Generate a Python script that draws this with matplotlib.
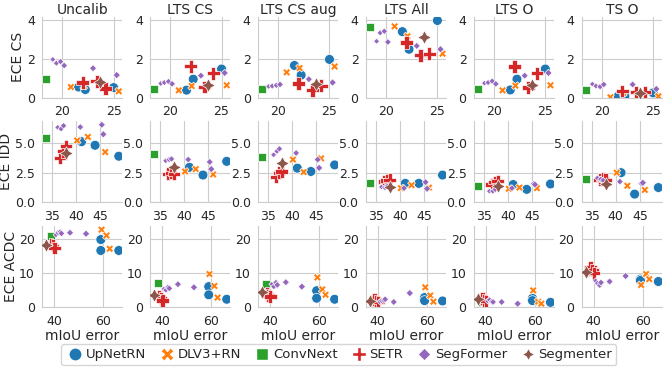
import matplotlib
matplotlib.use('Agg')
import matplotlib.pyplot as plt
from matplotlib.lines import Line2D
import seaborn as sns

# model family of each point
families = ['UpNetRN', 'DLV3+RN', 'ConvNext', 'SETR', 'SegFormer', 'Segmenter']
model = (['UpNetRN'] * 3 + ['DLV3+RN'] * 3 + ['ConvNext'] + ['SETR'] * 3
         + ['SegFormer'] * 6 + ['Segmenter'])
point_size = [50, 50, 50, 32, 32, 32, 75, 85, 85, 85, 18, 20, 22, 24, 26, 28, 95]

methods = ['Uncalib', 'LTS CS', 'LTS CS aug', 'LTS All', 'LTS O', 'TS O']

# mIoU error per dataset
miou_cs = [21.6, 22.25, 25.0, 20.85, 22.1, 25.5, 18.45, 22.0, 23.35, 24.2,
           19.1, 19.45, 19.85, 20.2, 23.0, 25.3, 23.7]
miou_idd = [41.1, 43.9, 48.8, 40.2, 42.4, 46.0, 33.8, 36.7, 37.3, 37.9,
            36.2, 36.9, 37.4, 40.85, 45.3, 45.6, 37.9]
miou_acdc = [59.0, 59.0, 66.3, 59.3, 61.3, 62.6, 38.6, 38.7, 39.5, 40.2,
             40.8, 41.6, 42.5, 43.0, 46.5, 53.0, 36.8]

# ECE on Cityscapes
ece_cs_uncalib = [0.55, 0.42, 0.52, 0.55, 0.6, 0.33, 0.97, 0.78, 0.85, 0.47,
                  1.96, 1.77, 1.85, 1.65, 1.51, 1.16, 0.82]
ece_cs_lts_cs = [0.39, 0.95, 1.47, 0.38, 0.6, 0.64, 0.43, 1.61, 0.55, 1.26,
                 0.73, 0.78, 0.83, 0.71, 1.13, 1.27, 0.63]
ece_cs_lts_cs_aug = [1.65, 1.16, 1.96, 1.3, 1.52, 1.6, 0.43, 0.73, 0.38, 0.62,
                     0.58, 0.6, 0.64, 0.68, 0.95, 0.78, 0.7]
ece_cs_lts_all = [3.38, 2.48, 3.95, 3.65, 3.15, 2.25, 3.6, 2.82, 2.17, 2.25,
                  2.89, 3.32, 3.4, 2.85, 2.65, 2.48, 3.1]
ece_cs_lts_o = [0.4, 0.95, 1.47, 0.38, 0.62, 0.64, 0.47, 1.6, 0.52, 1.26,
                0.75, 0.78, 0.85, 0.71, 1.13, 1.27, 0.63]
ece_cs_ts_o = [0.08, 0.08, 0.25, 0.03, 0.25, 0.08, 0.38, 0.35, 0.3, 0.3,
               0.7, 0.6, 0.57, 0.68, 0.68, 0.45, 0.25]

# ECE on IDD
ece_idd_uncalib = [5.1, 4.8, 3.88, 5.2, 5.5, 4.23, 5.37, 3.75, 4.3, 4.72,
                   6.3, 6.18, 6.44, 6.33, 6.52, 5.72, 4.15]
ece_idd_lts_cs = [2.95, 2.3, 3.45, 2.6, 2.8, 2.35, 4.05, 2.4, 2.5, 2.4,
                  3.5, 3.6, 3.65, 3.6, 3.4, 2.8, 2.95]
ece_idd_lts_cs_aug = [2.88, 2.6, 3.15, 3.6, 2.55, 3.7, 3.8, 2.15, 2.5, 2.6,
                      4.0, 4.3, 4.5, 4.15, 3.6, 2.9, 3.3]
ece_idd_lts_all = [1.6, 1.6, 2.3, 1.2, 1.45, 1.25, 1.6, 1.75, 1.85, 1.9,
                   1.3, 1.25, 1.35, 1.2, 1.7, 1.15, 1.3]
ece_idd_lts_o = [1.5, 1.1, 1.55, 1.15, 1.25, 1.2, 1.4, 1.5, 1.7, 1.8,
                 0.95, 0.95, 1.1, 1.2, 1.55, 1.5, 1.35]
ece_idd_ts_o = [2.5, 0.7, 1.25, 2.5, 1.4, 1.05, 1.95, 1.9, 2.0, 1.9,
                2.05, 1.95, 1.85, 1.75, 1.6, 1.65, 1.55]

# ECE on ACDC
ece_acdc_uncalib = [19.8, 16.6, 16.6, 22.7, 21.0, 17.1, 20.8, 18.5, 18.0, 17.3,
                    21.2, 21.8, 22.0, 21.6, 21.8, 21.5, 18.3]
ece_acdc_lts_cs = [6.0, 3.6, 2.3, 9.7, 6.2, 2.8, 7.0, 3.1, 2.6, 1.9,
                   5.3, 5.0, 5.8, 5.5, 6.7, 5.8, 3.6]
ece_acdc_lts_cs_aug = [4.8, 2.6, 2.3, 8.7, 5.2, 3.6, 6.7, 4.1, 3.4, 3.1,
                       6.7, 6.0, 7.2, 6.5, 7.3, 6.0, 4.4]
ece_acdc_lts_all = [2.8, 1.9, 1.8, 5.8, 3.4, 1.6, 2.3, 2.3, 1.8, 1.5,
                    1.6, 1.9, 2.0, 2.3, 1.5, 4.1, 1.8]
ece_acdc_lts_o = [2.6, 1.9, 1.4, 4.9, 1.6, 1.0, 1.6, 2.6, 2.0, 1.8,
                  1.8, 2.1, 1.6, 1.5, 1.5, 1.0, 2.3]
ece_acdc_ts_o = [8.2, 7.8, 7.5, 6.5, 9.7, 8.2, 10.2, 11.7, 10.9, 9.9,
                 7.7, 7.0, 6.4, 7.2, 7.5, 9.1, 10.2]

rows = [
    ('ECE CS', miou_cs, [ece_cs_uncalib, ece_cs_lts_cs, ece_cs_lts_cs_aug,
                         ece_cs_lts_all, ece_cs_lts_o, ece_cs_ts_o],
     [20, 25], [0, 2, 4], ['0', '2', '4']),
    ('ECE IDD', miou_idd, [ece_idd_uncalib, ece_idd_lts_cs, ece_idd_lts_cs_aug,
                           ece_idd_lts_all, ece_idd_lts_o, ece_idd_ts_o],
     [35, 40, 45], [0, 2.5, 5], ['0.0', '2.5', '5.0']),
    ('ECE ACDC', miou_acdc, [ece_acdc_uncalib, ece_acdc_lts_cs, ece_acdc_lts_cs_aug,
                             ece_acdc_lts_all, ece_acdc_lts_o, ece_acdc_ts_o],
     [40, 60], [0, 10, 20], ['0', '10', '20']),
]

colors = dict(zip(families, sns.color_palette('tab10', 6)))
markers = dict(zip(families, ['o', 'X', (4, 0, 45), 'P', (4, 0, 0), (4, 1, 0)]))

sns.set_style('whitegrid')
plt.rcParams['font.family'] = ['DejaVu Sans']

fig, axes = plt.subplots(3, 6, figsize=(6.64, 3.70), dpi=100, sharex='row', sharey='row')
fig.subplots_adjust(left=0.064, right=0.997, top=0.955, bottom=0.17, wspace=0.35, hspace=0.29)

for r, (ylabel, xs, ece_lists, xticks, yticks, yticklabels) in enumerate(rows):
    for c, ys in enumerate(ece_lists):
        ax = axes[r, c]
        for fam in families:
            idx = [i for i, m in enumerate(model) if m == fam]
            ax.scatter([xs[i] for i in idx], [ys[i] for i in idx],
                       s=[point_size[i] for i in idx], marker=markers[fam],
                       color=colors[fam], edgecolor='white', linewidth=0.5, zorder=3)
        ax.set_xticks(xticks)
        ax.set_yticks(yticks)
        ax.set_yticklabels(yticklabels)
        ax.tick_params(labelsize=9, pad=2, labelleft=True, labelbottom=True)
        if r == 0:
            ax.set_title(methods[c], fontsize=10, pad=2)
        if c == 0:
            ax.set_ylabel(ylabel, fontsize=10, labelpad=1)
        if r == 2:
            ax.set_xlabel('mIoU error', fontsize=10, labelpad=1)
    axes[r, 0].set_ylim(bottom=0)

sns.despine(fig)

handles = [Line2D([], [], linestyle='none', marker=markers[f], color=colors[f],
                  markeredgecolor='white', markersize=9.5 if f != 'ConvNext' else 12)
           for f in families]
fig.legend(handles, families, loc='lower center', bbox_to_anchor=(0.51, -0.005), ncol=6,
           fontsize=9.5, handletextpad=0.0, columnspacing=0.8, borderpad=0.3,
           handlelength=1.6)

fig.savefig('out.png', dpi=100)
